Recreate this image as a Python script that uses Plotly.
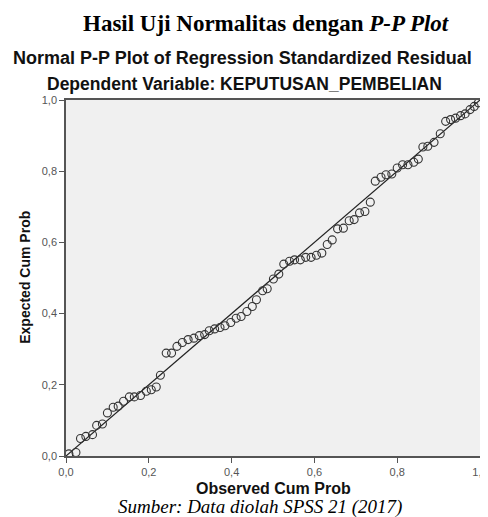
import plotly.graph_objects as go

observed = [0.007, 0.024, 0.035, 0.048, 0.064, 0.074, 0.088, 0.100, 0.114, 0.126,
            0.139, 0.153, 0.165, 0.180, 0.194, 0.206, 0.218, 0.228, 0.242, 0.255,
            0.268, 0.281, 0.295, 0.309, 0.322, 0.335, 0.346, 0.359, 0.372, 0.384,
            0.398, 0.411, 0.423, 0.437, 0.450, 0.460, 0.475, 0.486, 0.501, 0.514,
            0.526, 0.540, 0.552, 0.566, 0.579, 0.592, 0.605, 0.618, 0.631, 0.643,
            0.656, 0.670, 0.684, 0.696, 0.709, 0.722, 0.735, 0.747, 0.761, 0.773,
            0.787, 0.800, 0.813, 0.826, 0.840, 0.851, 0.862, 0.874, 0.889, 0.904,
            0.917, 0.929, 0.941, 0.953, 0.964, 0.976, 0.986, 0.996]
expected = [0.006, 0.010, 0.049, 0.055, 0.060, 0.086, 0.090, 0.121, 0.137, 0.140,
            0.154, 0.166, 0.166, 0.170, 0.182, 0.186, 0.194, 0.227, 0.289, 0.289,
            0.308, 0.319, 0.327, 0.331, 0.338, 0.341, 0.352, 0.357, 0.361, 0.366,
            0.375, 0.387, 0.392, 0.406, 0.420, 0.439, 0.464, 0.470, 0.497, 0.511,
            0.539, 0.547, 0.551, 0.551, 0.558, 0.558, 0.564, 0.570, 0.594, 0.607,
            0.638, 0.640, 0.661, 0.664, 0.683, 0.687, 0.713, 0.772, 0.783, 0.790,
            0.792, 0.809, 0.818, 0.818, 0.825, 0.834, 0.868, 0.870, 0.881, 0.905,
            0.940, 0.945, 0.949, 0.956, 0.961, 0.973, 0.982, 0.992]
ref_line = [0.0, 1.0]
tick_vals = [0.0, 0.2, 0.4, 0.6, 0.8, 1.0]

fig = go.Figure()
fig.add_trace(go.Scatter(x=ref_line, y=ref_line, mode="lines",
                         line=dict(color="#222222", width=1.2), showlegend=False))
fig.add_trace(go.Scatter(x=observed, y=expected, mode="markers",
                         marker=dict(symbol="circle-open", size=8,
                                     color="#333333", line=dict(width=1.1)),
                         showlegend=False))

axis_common = dict(range=[0, 1], tickvals=tick_vals, tickformat=".1f",
                   showgrid=False, zeroline=False, showline=True, mirror=True,
                   linecolor="#555555", linewidth=1.5, ticks="outside",
                   ticklen=5, tickcolor="#555555",
                   tickfont=dict(family="Arial, Liberation Sans", size=11, color="#555555"))

W, H = 422, 356
def px(x):
    return (x - 58) / W
def py(y):
    return (448 - y) / H

fig.update_layout(
    width=488, height=517,
    margin=dict(l=58, r=8, t=92, b=69),
    paper_bgcolor="white", plot_bgcolor="#f0f0f0",
    separators=",.",
    xaxis=dict(**axis_common),
    yaxis=dict(**axis_common),
    annotations=[
        dict(text="<b>Hasil Uji Normalitas dengan <i>P-P Plot</i></b>",
             xref="paper", yref="paper", x=px(262), y=py(15),
             xanchor="center", yanchor="middle", showarrow=False,
             font=dict(family="Liberation Serif, Times New Roman", size=23, color="black")),
        dict(text="<b>Normal P-P Plot of Regression Standardized Residual</b>",
             xref="paper", yref="paper", x=px(238), y=py(50),
             xanchor="center", yanchor="middle", showarrow=False,
             font=dict(family="Liberation Sans, Arial", size=18, color="#111111")),
        dict(text="<b>Dependent Variable: KEPUTUSAN_PEMBELIAN</b>",
             xref="paper", yref="paper", x=px(240), y=py(76),
             xanchor="center", yanchor="middle", showarrow=False,
             font=dict(family="Liberation Sans, Arial", size=17.5, color="#111111")),
        dict(text="<b>Expected Cum Prob</b>", textangle=-90,
             xref="paper", yref="paper", x=px(16), y=py(269),
             xanchor="center", yanchor="middle", showarrow=False,
             font=dict(family="Liberation Sans, Arial", size=14, color="#111111")),
        dict(text="<b>Observed Cum Prob</b>",
             xref="paper", yref="paper", x=px(270), y=py(480),
             xanchor="center", yanchor="middle", showarrow=False,
             font=dict(family="Liberation Sans, Arial", size=16, color="#111111")),
        dict(text="<i>Sumber: Data diolah SPSS 21 (2017)</i>",
             xref="paper", yref="paper", x=px(256), y=py(499),
             xanchor="center", yanchor="middle", showarrow=False,
             font=dict(family="Liberation Serif, Times New Roman", size=19, color="black")),
    ],
)

fig.write_html("out.html")
